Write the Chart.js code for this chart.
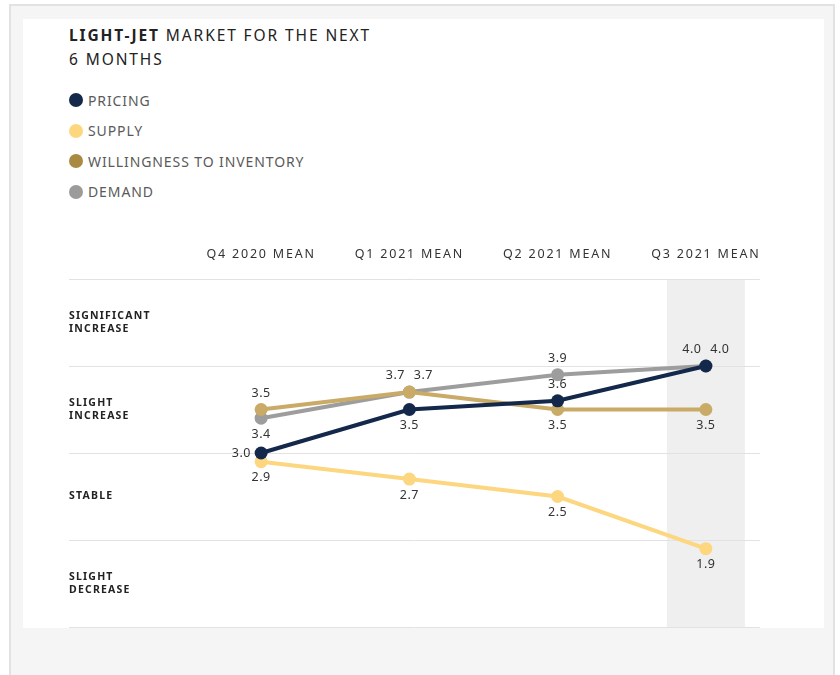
<!DOCTYPE html>
<html>
<head>
<meta charset="utf-8">
<script src="https://cdn.jsdelivr.net/npm/chart.js@4"></script>
<style>
  html, body { margin: 0; padding: 0; }
  body { width: 840px; height: 675px; background: #ffffff; position: relative; overflow: hidden; font-family: "Noto Sans", sans-serif; }
  #frame { position: absolute; left: 9px; top: 4px; width: 822px; height: 700px; background: #f5f5f5; border: 2px solid #e2e2e2; border-bottom: none; }
  #card { position: absolute; left: 23px; top: 19px; width: 801px; height: 609px; background: #fff; }
  #title { position: absolute; left: 69px; top: 23px; font-size: 15.5px; line-height: 24px; letter-spacing: 1.9px; color: #222; }
  #title b { font-weight: 700; }
  #legend { position: absolute; left: 69px; top: 85px; }
  .row { height: 30.5px; display: flex; align-items: center; font-size: 14px; color: #5a5a5a; letter-spacing: 0.9px; }
  .dot { width: 14px; height: 14px; border-radius: 50%; margin-right: 5px; }
  #wrap { position: absolute; left: 23px; top: 230px; width: 801px; height: 405px; }
</style>
</head>
<body>
<div id="frame"></div>
<div id="card"></div>
<div id="title"><b>LIGHT-JET</b> MARKET FOR THE NEXT<br>6 MONTHS</div>
<div id="legend"></div>
<div id="wrap"><canvas id="chart"></canvas></div>
<script>
// chart data
const quarters = ['Q4 2020 MEAN', 'Q1 2021 MEAN', 'Q2 2021 MEAN', 'Q3 2021 MEAN'];
const pricing = [3.0, 3.5, 3.6, 4.0];
const supply = [2.9, 2.7, 2.5, 1.9];
const willingness = [3.5, 3.7, 3.5, 3.5];
const demand = [3.4, 3.7, 3.9, 4.0];
const seriesNames = ['PRICING', 'SUPPLY', 'WILLINGNESS TO INVENTORY', 'DEMAND'];
const levelValues = [1.5, 2.5, 3.5, 4.5];
const levelLabels = [['SLIGHT', 'DECREASE'], ['STABLE'], ['SLIGHT', 'INCREASE'], ['SIGNIFICANT', 'INCREASE']];
const gridValues = [1, 2, 3, 4, 5];

// styling
const lineColors = ['#13284a', '#fdd680', '#c9aa66', '#9d9d9d'];
const legendColors = ['#13284a', '#fdd77e', '#a88a41', '#9b9b9b'];
// where each value label sits relative to its point
const labelPlaces = [
  ['left', 'below', 'above', 'aboveRight'],
  ['below', 'below', 'below', 'below'],
  ['above', 'aboveLeft', 'below', 'below'],
  ['below', 'aboveRight', 'above', 'aboveLeft']
];
const placeOffsets = {
  above: [0, -16, 'center'],
  below: [0, 16, 'center'],
  left: [-10, 0, 'right'],
  aboveLeft: [-14, -17, 'center'],
  aboveRight: [14, -17, 'center']
};

const legendDiv = document.getElementById('legend');
seriesNames.forEach((name, i) => {
  legendDiv.innerHTML += `<div class="row"><span class="dot" style="background:${legendColors[i]}"></span>${name}</div>`;
});

Chart.defaults.font.family = '"Noto Sans", sans-serif';

const spacing = { x: '1.8px', y: '1.2px' };

const backdrop = {
  id: 'backdrop',
  afterLayout(chart) {
    Object.values(chart.scales).forEach(scale => {
      if (scale._spaced) return;
      const draw = scale.drawLabels.bind(scale);
      scale.drawLabels = (area) => {
        const ctx = scale.ctx;
        ctx.save();
        ctx.letterSpacing = spacing[scale.id];
        draw(area);
        ctx.restore();
      };
      scale._spaced = true;
    });
  },
  beforeDatasetsDraw(chart) {
    const ctx = chart.ctx;
    const x = chart.scales.x;
    const y = chart.scales.y;
    const last = x.getPixelForValue(quarters.length - 1);
    ctx.save();
    // highlight last quarter
    ctx.fillStyle = '#efefef';
    const top = y.getPixelForValue(5);
    const bottom = y.getPixelForValue(1);
    ctx.fillRect(last - 39, top, 78, bottom - top);
    // grid lines
    ctx.strokeStyle = '#e2e2e2';
    ctx.lineWidth = 1;
    gridValues.forEach(v => {
      const py = Math.round(y.getPixelForValue(v)) + 0.5;
      ctx.beginPath();
      ctx.moveTo(y.left, py);
      ctx.lineTo(last + 54, py);
      ctx.stroke();
    });
    ctx.restore();
  },
  afterDatasetsDraw(chart) {
    const ctx = chart.ctx;
    ctx.save();
    ctx.font = '12.5px "Noto Sans", sans-serif';
    ctx.fillStyle = '#333';
    ctx.textBaseline = 'middle';
    ctx.letterSpacing = '0.6px';
    chart.data.datasets.forEach((ds, d) => {
      const meta = chart.getDatasetMeta(d);
      meta.data.forEach((pt, i) => {
        const off = placeOffsets[labelPlaces[d][i]];
        ctx.textAlign = off[2];
        ctx.fillText(ds.data[i].toFixed(1), pt.x + off[0], pt.y + off[1]);
      });
    });
    ctx.restore();
  }
};

const seriesData = [pricing, supply, willingness, demand];

new Chart(document.getElementById('chart'), {
  type: 'line',
  data: {
    labels: quarters,
    datasets: seriesData.map((values, i) => ({
      label: seriesNames[i],
      data: values,
      borderColor: lineColors[i],
      backgroundColor: lineColors[i],
      pointBackgroundColor: lineColors[i],
      borderWidth: 4,
      pointRadius: 6.5,
      pointBorderWidth: 0,
      tension: 0
    }))
  },
  options: {
    responsive: true,
    maintainAspectRatio: false,
    animation: false,
    layout: { padding: { left: 46, right: 44, bottom: 8, top: 0 } },
    plugins: { legend: { display: false }, tooltip: { enabled: false } },
    scales: {
      x: {
        position: 'top',
        offset: true,
        grid: { display: false, drawTicks: false },
        border: { display: false },
        ticks: { color: '#333', font: { size: 12.5 }, padding: 17, autoSkip: false, maxRotation: 0 },
        afterFit(scale) { scale.height = 49; }
      },
      y: {
        min: 1,
        max: 5,
        grid: { display: false, drawTicks: false },
        border: { display: false },
        afterBuildTicks(scale) { scale.ticks = levelValues.map(v => ({ value: v })); },
        ticks: {
          crossAlign: 'far',
          color: '#222',
          font: { size: 10.5, weight: 'bold', lineHeight: 1.25 },
          callback(value) { return levelLabels[levelValues.indexOf(value)]; }
        },
        afterFit(scale) {
          scale.width = 118;
          scale.paddingTop = 0;
          scale.paddingBottom = 0;
        }
      }
    }
  },
  plugins: [backdrop]
});
</script>
</body>
</html>
